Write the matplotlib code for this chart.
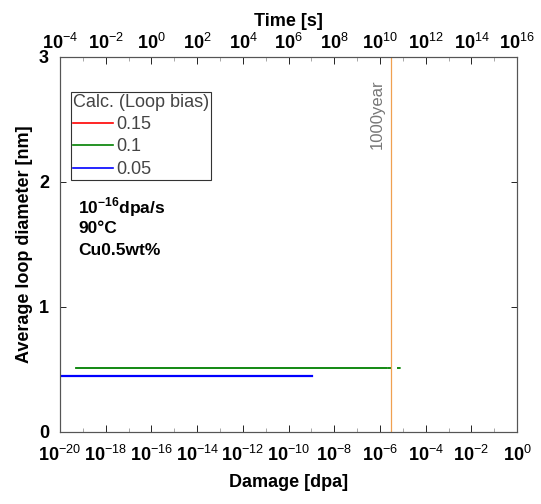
import matplotlib
matplotlib.use("Agg")
import matplotlib.pyplot as plt
import numpy as np
from matplotlib.lines import Line2D

plt.rcParams["font.family"] = ["Liberation Sans", "DejaVu Sans"]
plt.rcParams["mathtext.fontset"] = "custom"
plt.rcParams["mathtext.rm"] = "Liberation Sans"
plt.rcParams["mathtext.bf"] = "Liberation Sans:bold"

# datos
dose_rate = 1e-16  # dpa/s
damage_lim = [1e-20, 1e0]
time_lim = [damage_lim[0] / dose_rate, damage_lim[1] / dose_rate]
year_1000_s = 1000 * 365.25 * 24 * 3600

bias_labels = ["0.15", "0.1", "0.05"]
bias_colors = ["red", "green", "blue"]

green_x = [5e-20, 2e-6]
green_y = [0.51, 0.51]
green_tail_x = [2.3e-6, 9e-6]
green_tail_y = [0.51, 0.51]
blue_x = [1e-20, 1.1e-9]
blue_y = [0.45, 0.45]

damage_ticks = [10.0 ** e for e in range(-20, 1, 2)]
time_ticks = [10.0 ** e for e in range(-4, 17, 2)]
y_ticks = [0, 1, 2, 3]


def pow_label(v):
    e = int(round(np.log10(v)))
    return r"$\mathbf{10}^{\mathrm{%d}}$" % e


fig = plt.figure(figsize=(5.41, 5.04), dpi=100)
ax = fig.add_axes([0.111, 0.143, 0.845, 0.744])

ax.plot(green_x, green_y, color="green", lw=1.3)
ax.plot(green_tail_x, green_tail_y, color="green", lw=1.3, ls=(0, (2, 3)))
ax.plot(blue_x, blue_y, color="blue", lw=1.6)
line_x = year_1000_s * dose_rate
ax.axvline(line_x, color="#F0A050", lw=0.9)

ax.set_xscale("log")
ax.set_xlim(damage_lim)
ax.set_ylim(0, 3)
ax.set_xticks(damage_ticks)
ax.set_xticklabels([pow_label(v) for v in damage_ticks], fontsize=13)
ax.set_xticks([10.0 ** e for e in range(-19, 0, 2)], minor=True)
ax.set_xticklabels([], minor=True)
ax.set_yticks(y_ticks)
ax.set_yticklabels([str(v) for v in y_ticks], fontsize=13, fontweight="bold")
ax.tick_params(which="both", direction="in", right=True, top=False)
ax.tick_params(axis="x", which="major", length=5, width=0.6, colors="black", pad=9)
ax.tick_params(which="minor", length=3, width=0.6, color="#999999")
ax.tick_params(axis="y", length=4, width=0.6, pad=8)
ax.set_xlabel("Damage [dpa]", fontsize=13, fontweight="bold", labelpad=7)
ax.set_ylabel("Average loop diameter [nm]", fontsize=13, fontweight="bold", labelpad=4)

ax2 = ax.twiny()
ax2.set_xscale("log")
ax2.set_xlim(time_lim)
ax2.set_xticks(time_ticks)
ax2.set_xticklabels([pow_label(v) for v in time_ticks], fontsize=13)
ax2.set_xticks([10.0 ** e for e in range(-3, 16, 2)], minor=True)
ax2.set_xticklabels([], minor=True)
ax2.tick_params(which="both", direction="in", pad=3)
ax2.tick_params(which="major", length=5, width=0.6)
ax2.tick_params(which="minor", length=3, width=0.6, color="#999999")
ax2.set_xlabel("Time [s]", fontsize=13, fontweight="bold", labelpad=5)

for a in (ax, ax2):
    for s in a.spines.values():
        s.set_color("#555555")
        s.set_linewidth(0.8)

handles = [Line2D([0], [0], color=c, lw=1.2) for c in bias_colors]
leg = ax.legend(handles, bias_labels, title="Calc. (Loop bias)", loc="upper left",
                bbox_to_anchor=(0.024, 0.907), fontsize=13, title_fontsize=13,
                frameon=True, fancybox=False, framealpha=1, edgecolor="#333333",
                handlelength=2.2, handletextpad=0.2, labelspacing=0.3,
                borderpad=0.1, borderaxespad=0)
leg._legend_box.align = "left"
leg.get_frame().set_linewidth(0.8)
for t in leg.get_texts():
    t.set_color("#444444")
leg.get_title().set_color("#444444")

ax.text(0.04, 0.60, r"$\mathbf{10}^{\mathbf{-16}}$dpa/s", transform=ax.transAxes,
        fontsize=12.5, fontweight="bold", va="center")
ax.text(0.04, 0.543, "90°C", transform=ax.transAxes, fontsize=12.5,
        fontweight="bold", va="center")
ax.text(0.04, 0.484, "Cu0.5wt%", transform=ax.transAxes, fontsize=12.5,
        fontweight="bold", va="center")
ax.text(line_x / 4.1, 2.82, "1000year", rotation=90,
        ha="center", va="top", fontsize=12, color="#777777")

fig.savefig("out.png", dpi=100)
